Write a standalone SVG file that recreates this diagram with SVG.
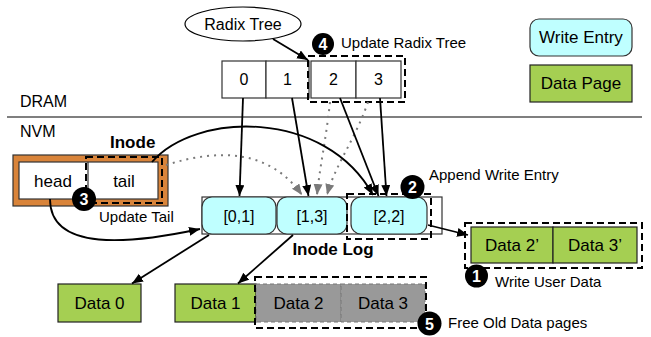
<svg xmlns="http://www.w3.org/2000/svg" width="651" height="337" viewBox="0 0 651 337">
<defs>
<marker id="ah" markerUnits="userSpaceOnUse" markerWidth="12" markerHeight="10" refX="11" refY="4.5" orient="auto"><path d="M0,0 L11,4.5 L0,9 z" fill="#000"/></marker>
<marker id="ahg" markerUnits="userSpaceOnUse" markerWidth="12" markerHeight="10" refX="11" refY="4.5" orient="auto"><path d="M0,0 L11,4.5 L0,9 z" fill="#7a7a7a"/></marker>
<style>
text{font-family:"Liberation Sans",Arial,Helvetica,sans-serif;fill:#000}
.c{text-anchor:middle}
.cell{fill:#fff;stroke:#333;stroke-width:1.2}
.we{fill:#bfffff;stroke:#333;stroke-width:1.2}
.dp{fill:#a5cf52;stroke:#222;stroke-width:1.2}
.old{fill:#999;stroke:#777;stroke-width:1;stroke-dasharray:4,3}
.dash{fill:none;stroke:#000;stroke-width:2;stroke-dasharray:7,4}
.ln{fill:none;stroke:#000;stroke-width:1.8}
.dot{fill:none;stroke:#7a7a7a;stroke-width:2;stroke-dasharray:2,5}
.num{fill:#000}
.numt{fill:#fff;font-weight:bold;font-size:16px;text-anchor:middle}
</style>
</defs>

<g id="radix-tree">
<ellipse cx="243" cy="24" rx="58" ry="17" fill="#fff" stroke="#000" stroke-width="1.2"/>
<text x="243" y="30" class="c" font-size="16">Radix Tree</text>
</g>

<g id="radix-array">
<rect class="cell" x="222" y="61" width="44" height="37"/>
<rect class="cell" x="266" y="61" width="43" height="37"/>
<rect class="cell" x="311" y="61" width="45" height="37"/>
<rect class="cell" x="356" y="61" width="45" height="37"/>
<text x="244" y="85" class="c" font-size="16">0</text>
<text x="287.5" y="85" class="c" font-size="16">1</text>
<text x="333.5" y="85" class="c" font-size="16">2</text>
<text x="378.5" y="85" class="c" font-size="16">3</text>
<rect class="dash" x="308" y="56" width="97" height="46"/>
</g>

<g id="step4">
<circle class="num" cx="323" cy="44" r="11"/>
<text x="323" y="50" class="numt">4</text>
<text x="341" y="48" font-size="15">Update Radix Tree</text>
</g>

<g id="legend">
<rect class="we" x="530" y="19" width="102" height="37" rx="9"/>
<text x="581" y="43" class="c" font-size="17">Write Entry</text>
<rect class="dp" x="530" y="65" width="102" height="37"/>
<text x="581" y="89" class="c" font-size="17">Data Page</text>
</g>

<g id="divider">
<text x="20" y="107" font-size="16">DRAM</text>
<line x1="7" y1="117" x2="642" y2="117" stroke="#000" stroke-width="1.2"/>
<text x="20" y="137" font-size="16">NVM</text>
</g>

<g id="inode">
<text x="110" y="148" font-size="17" font-weight="bold">Inode</text>
<rect x="13" y="155" width="155" height="51" fill="#d9843a" stroke="#333" stroke-width="1.2"/>
<rect x="19" y="162" width="139" height="37" fill="#fff" stroke="#333" stroke-width="1.2"/>
<line x1="88" y1="162" x2="88" y2="199" stroke="#333" stroke-width="1.2"/>
<text x="53" y="187" class="c" font-size="17">head</text>
<text x="124" y="187" class="c" font-size="17">tail</text>
<rect class="dash" x="86" y="157" width="76" height="46"/>
</g>

<g id="step3">
<circle class="num" cx="84" cy="199" r="12"/>
<text x="84" y="205" class="numt">3</text>
<text x="99" y="222" font-size="15">Update Tail</text>
</g>

<g id="inode-log">
<rect x="202" y="197" width="240" height="37" fill="#fff" stroke="#333" stroke-width="1.2"/>
<rect class="we" x="202" y="197" width="74" height="37" rx="10"/>
<rect class="we" x="277" y="197" width="70" height="37" rx="10"/>
<rect class="we" x="351" y="197" width="76" height="37" rx="10"/>
<text x="239" y="222" class="c" font-size="16">[0,1]</text>
<text x="312" y="222" class="c" font-size="16">[1,3]</text>
<text x="389" y="222" class="c" font-size="16">[2,2]</text>
<rect class="dash" x="347" y="194" width="84" height="45"/>
<text x="333" y="255" class="c" font-size="17" font-weight="bold">Inode Log</text>
</g>

<g id="step2">
<circle class="num" cx="412.5" cy="187" r="12"/>
<text x="412.5" y="193" class="numt">2</text>
<text x="429" y="180" font-size="15">Append Write Entry</text>
</g>

<g id="new-data">
<rect class="dp" x="471" y="227" width="82" height="36"/>
<rect class="dp" x="553" y="227" width="84" height="36"/>
<text x="512" y="251" class="c" font-size="17">Data 2’</text>
<text x="595" y="251" class="c" font-size="17">Data 3’</text>
<rect class="dash" x="465" y="223" width="177" height="45"/>
</g>

<g id="step1">
<circle class="num" cx="476.5" cy="276" r="11.5"/>
<text x="476.5" y="282" class="numt">1</text>
<text x="495" y="287" font-size="15">Write User Data</text>
</g>

<g id="data0">
<rect class="dp" x="58" y="284" width="83" height="38"/>
<text x="99.5" y="309" class="c" font-size="17">Data 0</text>
</g>

<g id="data1">
<rect class="dp" x="175" y="284" width="81" height="38"/>
<text x="215.5" y="309" class="c" font-size="17">Data 1</text>
</g>

<g id="old-data">
<rect class="old" x="256" y="284" width="85" height="38"/>
<rect class="old" x="341" y="284" width="84" height="38"/>
<text x="298.5" y="309" class="c" font-size="17" fill="#222">Data 2</text>
<text x="383" y="309" class="c" font-size="17" fill="#222">Data 3</text>
<rect class="dash" x="255" y="277" width="171" height="51"/>
</g>

<g id="step5">
<circle class="num" cx="429.5" cy="323.5" r="12"/>
<text x="429.5" y="329.5" class="numt">5</text>
<text x="448" y="328" font-size="15">Free Old Data pages</text>
</g>

<g id="connectors">
<line class="ln" x1="273" y1="39" x2="308" y2="60" marker-end="url(#ah)"/>
<path class="dot" d="M166,165 C220,148 270,150 302,195" marker-end="url(#ahg)"/>
<path class="dot" d="M330,102 C326,140 320,165 317,195" marker-end="url(#ahg)"/>
<path class="dot" d="M368,102 C355,140 335,165 327,195" marker-end="url(#ahg)"/>
<line class="ln" x1="243" y1="98" x2="239.5" y2="196" marker-end="url(#ah)"/>
<line class="ln" x1="292" y1="98" x2="308.5" y2="196" marker-end="url(#ah)"/>
<line class="ln" x1="340" y1="98" x2="378.5" y2="196" marker-end="url(#ah)"/>
<line class="ln" x1="380" y1="98" x2="386.5" y2="196" marker-end="url(#ah)"/>
<path class="ln" d="M152,162 C195,112 325,108 373,195" marker-end="url(#ah)"/>
<path class="ln" d="M50,199 C50,252 130,244 200,229" marker-end="url(#ah)"/>
<line class="ln" x1="209" y1="235" x2="132" y2="283.5" marker-end="url(#ah)"/>
<line class="ln" x1="293" y1="235" x2="238" y2="283.5" marker-end="url(#ah)"/>
<line class="ln" x1="428" y1="225" x2="468" y2="235" marker-end="url(#ah)"/>
</g>
</svg>
